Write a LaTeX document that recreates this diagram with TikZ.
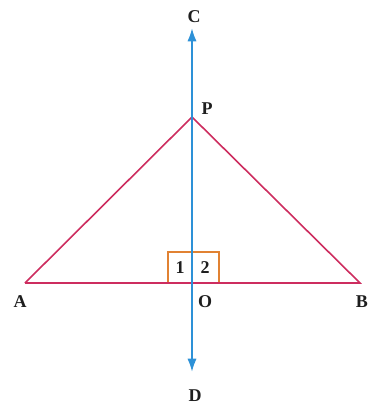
\documentclass[tikz,border=0pt]{standalone}
\usepackage{fontspec}
\setmainfont{Liberation Serif}
\usetikzlibrary{arrows.meta, positioning}
\definecolor{sidecolor}{RGB}{205, 45, 95}
\definecolor{axiscolor}{RGB}{45, 145, 215}
\definecolor{markcolor}{RGB}{225, 130, 50}
\definecolor{labelcolor}{RGB}{30, 30, 30}
\tikzset{
  ptlabel/.style={
    font=\fontsize{13.5}{15}\selectfont\bfseries,
    text=labelcolor, inner sep=1pt
  },
  side/.style={
    draw=sidecolor, line width=1.2pt
  },
  axis/.style={
    {Latex[length=10pt, width=7pt]}-{Latex[length=10pt, width=7pt]},
    draw=axiscolor, line width=1.6pt
  },
  markline/.style={
    draw=markcolor, line width=1.2pt
  }
}

\begin{document}
\begin{tikzpicture}[x=0.75pt, y=-0.75pt]

  % ── Frame ──────────────────────────────────────────────────
  \useasboundingbox (0,0) rectangle (369,404);

  % ── Points ─────────────────────────────────────────────────
  \coordinate (A) at (25,283);
  \coordinate (B) at (360,283);
  \coordinate (P) at (192,117);
  \coordinate (O) at (192,283);
  \coordinate (C) at (192,28);
  \coordinate (D) at (192,372);

  % ── Angle marks at O ───────────────────────────────────────
  \coordinate (m1) at (168,283);
  \coordinate (m2) at (219,252);
  \draw[markline] (m1) rectangle (m2);

  % ── Triangle APB ───────────────────────────────────────────
  \draw[side] (A) -- (P) -- (B) -- (A);

  % ── Line CD through P and O ────────────────────────────────
  \draw[axis] (D) -- (C);

  % ── Labels ─────────────────────────────────────────────────
  \node[ptlabel] (ang1) at (180,268) {1};
  \node[ptlabel] (ang2) at (205,268) {2};
  \node[ptlabel] (labC) at (194,17)  {C};
  \node[ptlabel] (labP) at (207,109) {P};
  \node[ptlabel] (labA) at (20,302)  {A};
  \node[ptlabel] (labO) at (205,302) {O};
  \node[ptlabel] (labB) at (362,302) {B};
  \node[ptlabel] (labD) at (195,396) {D};

\end{tikzpicture}
\end{document}
